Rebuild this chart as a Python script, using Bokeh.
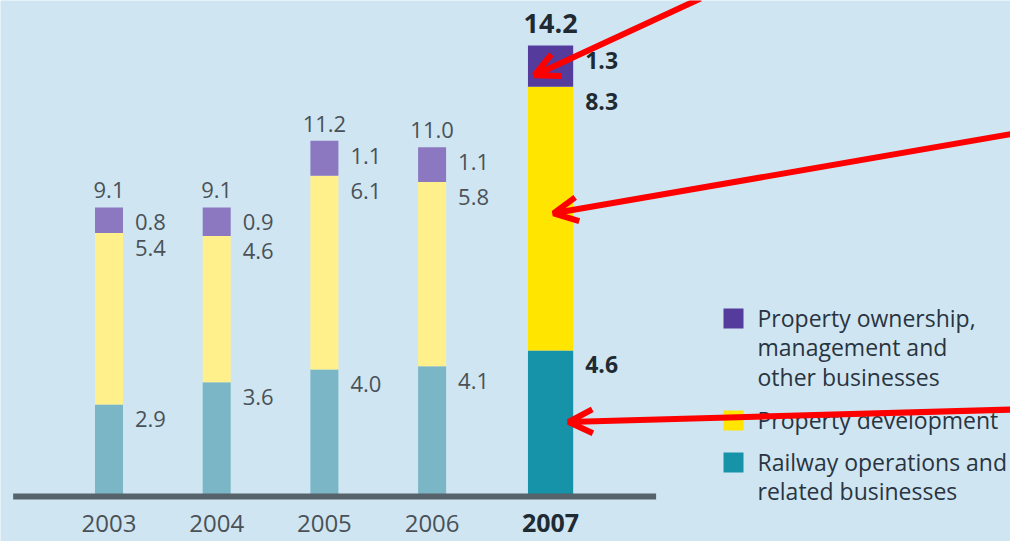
from bokeh.plotting import figure
from bokeh.models import Range1d, Arrow, OpenHead, ColumnDataSource
from bokeh.core.properties import value
from bokeh.embed import file_html
from bokeh.resources import INLINE

# ---- data ----
years = ["2003", "2004", "2005", "2006", "2007"]
railway = [2.9, 3.6, 4.0, 4.1, 4.6]
property_dev = [5.4, 4.6, 6.1, 5.8, 8.3]
property_own = [0.8, 0.9, 1.1, 1.1, 1.3]
totals = ["9.1", "9.1", "11.2", "11.0", "14.2"]
series_names = [
    "Property ownership,\nmanagement and\nother businesses",
    "Property development",
    "Railway operations and\nrelated businesses",
]

# ---- styling ----
FONT = "Open Sans"
BG = "#cfe6f2"
light = {"own": "#8b78c0", "dev": "#fff08c", "rail": "#7ab6c5"}
dark = {"own": "#553b9c", "dev": "#ffe500", "rail": "#1693a9"}
txt_light = "#4a5157"
txt_dark = "#1f2a33"

W, H = 1010, 541
PX_X = 107.7          # pixels per category step
PX_Y = 31.76          # pixels per unit
X0_PX = 108.5         # pixel of first category
BASE_PX = 496         # pixel row of zero

x_start = -X0_PX / PX_X
y_end = BASE_PX / PX_Y
p = figure(width=W, height=H, output_backend="svg", toolbar_location=None,
           x_range=Range1d(x_start, x_start + W / PX_X),
           y_range=Range1d(y_end - H / PX_Y, y_end),
           min_border=0, background_fill_color=BG, border_fill_color=BG,
           outline_line_color=None)
p.axis.visible = False
p.grid.visible = False

def px2x(px):
    return x_start + px / PX_X

def px2y(py):
    return y_end - py / PX_Y

n = len(years)
hl = n - 1
xs = [i + (0.1 if i == hl else 0.0) for i in range(n)]
widths = [0.42 if i == hl else 0.26 for i in range(n)]

b1 = list(railway)
b2 = [r + d for r, d in zip(railway, property_dev)]
b3 = [a + o for a, o in zip(b2, property_own)]

def cols(key):
    return [dark[key] if i == hl else light[key] for i in range(n)]

src = ColumnDataSource(dict(
    x=xs, w=widths, zero=[0] * n, b1=b1, b2=b2, b3=b3,
    c_rail=cols("rail"), c_dev=cols("dev"), c_own=cols("own"),
))
p.vbar(x="x", width="w", bottom="zero", top="b1", fill_color="c_rail", line_color=None, source=src)
p.vbar(x="x", width="w", bottom="b1", top="b2", fill_color="c_dev", line_color=None, source=src)
p.vbar(x="x", width="w", bottom="b2", top="b3", fill_color="c_own", line_color=None, source=src)

# baseline
p.segment(x0=[xs[0] - 0.89], x1=[xs[-1] + 0.98], y0=[0], y1=[0], line_color="#56636b", line_width=6)

# labels
for i in range(n):
    is_hl = i == hl
    color = txt_dark if is_hl else txt_light
    style = "bold" if is_hl else "normal"
    size = "23px" if is_hl else "22px"
    xr = xs[i] + widths[i] / 2
    seg_tops = [b3[i], b2[i], b1[i]]
    seg_vals = [property_own[i], property_dev[i], railway[i]]
    p.text(x=[xr] * 3, y=seg_tops, text=[f"{v:.1f}" for v in seg_vals],
           x_offset=12, y_offset=7 if not is_hl else 6, text_baseline="top", text_align="left",
           text_font=value(FONT), text_font_size=size, text_font_style=style, text_color=color)
    p.text(x=[xs[i]], y=[b3[i]], text=[totals[i]], text_align="center", text_baseline="bottom",
           y_offset=-9 if not is_hl else -13, text_font=value(FONT),
           text_font_size="27px" if is_hl else "22px",
           text_font_style=style, text_color=color)
    p.text(x=[xs[i]], y=[0], text=[years[i]], text_align="center", text_baseline="bottom",
           y_offset=35, text_font=value(FONT), text_font_size="25px" if is_hl else "24px",
           text_font_style=style, text_color=color)

# red call-out arrows pointing at the 2007 segments
seg_bottoms = [b2[hl], b1[hl], 0]
seg_heights = [property_own[hl], property_dev[hl], railway[hl]]
arrow_starts = [(700, -2), (1014, 133), (1014, 409)]
arrow_dx = [-16, 3, 18]
arrow_frac = [0.28, 0.52, 0.51]
for k in range(3):
    sx, sy = arrow_starts[k]
    p.add_layout(Arrow(x_start=px2x(sx), y_start=px2y(sy),
                       x_end=xs[hl] + arrow_dx[k] / PX_X,
                       y_end=seg_bottoms[k] + arrow_frac[k] * seg_heights[k],
                       line_color="#ff0000", line_width=6,
                       end=OpenHead(size=24, line_width=6, line_color="#ff0000")))

# legend (drawn manually so the swatch sits on the first text line)
legend_colors = [dark["own"], dark["dev"], dark["rail"]]
LEG_SWATCH_PX = 733
LEG_TEXT_PX = 757
leg_rows_px = [318, 420, 462]
p.scatter(x=[px2x(LEG_SWATCH_PX)] * 3, y=[px2y(r) for r in leg_rows_px],
          marker="square", size=20, fill_color=legend_colors, line_color=None)
p.text(x=[px2x(LEG_TEXT_PX)] * 3, y=[px2y(r) for r in leg_rows_px], text=series_names,
       y_offset=-17, text_baseline="top", text_align="left",
       text_font=value(FONT), text_font_size="23px", text_color="#2a3440",
       text_line_height=0.93)

open("out.html", "w").write(file_html(p, INLINE))
